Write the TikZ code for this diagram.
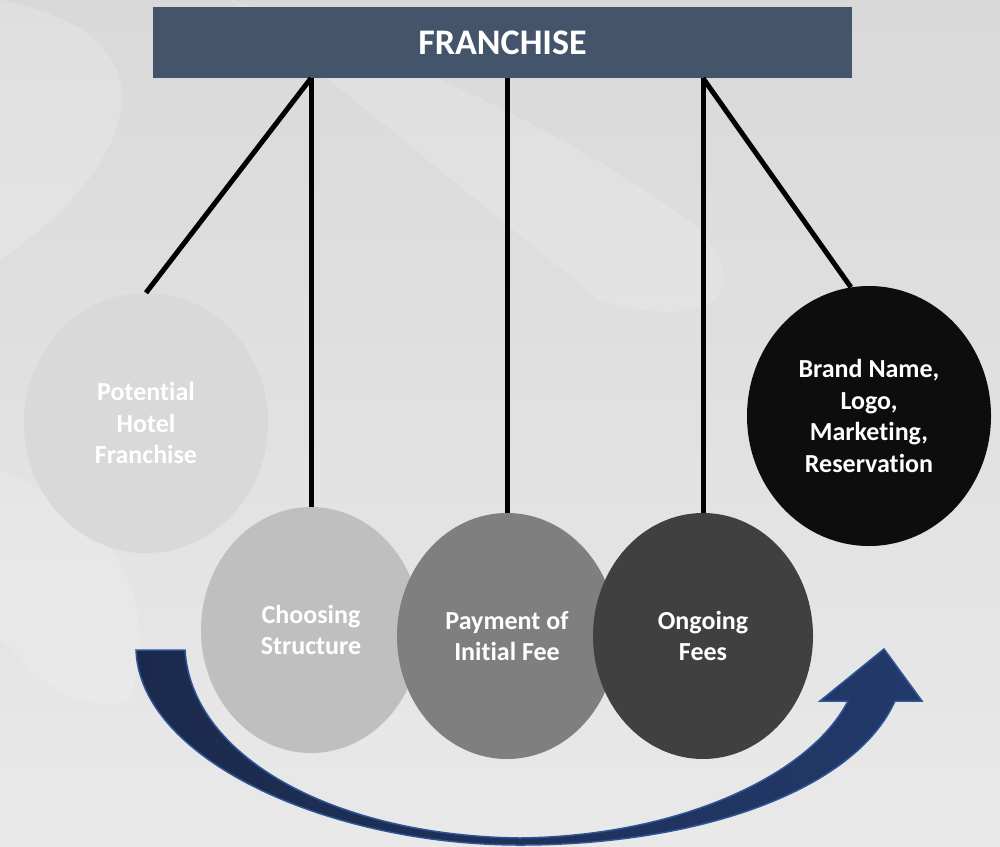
\documentclass[tikz,border=0pt]{standalone}
\usepackage{fontspec}
\setmainfont{Carlito}[Ligatures=NoCommon]
\usetikzlibrary{shapes.geometric}
\definecolor{boxblue}{HTML}{44546A}
\definecolor{arrowdark}{HTML}{1B2A4C}
\definecolor{arrowlight}{HTML}{22396A}
\definecolor{arrowedge}{HTML}{2F5597}
\definecolor{bgmid}{HTML}{D9D9D9}
\definecolor{bglight}{HTML}{E9E9E9}
\tikzset{
  bubble/.style={ellipse, inner sep=0pt, minimum width=220pt, minimum height=246pt,
    align=center, text=white, font=\fontsize{26}{31.7}\selectfont\bfseries},
  bigbubble/.style={bubble, minimum width=244pt, minimum height=260pt},
  hang/.style={line width=5pt, black},
  title/.style={fill=boxblue, minimum width=699pt, minimum height=71pt, inner sep=0pt,
    text=white, font=\fontsize{36}{43}\selectfont\bfseries}
}
\begin{document}
\begin{tikzpicture}[x=1pt, y=-1pt]
\useasboundingbox (0,0) rectangle (1000,846);
% background (photo approximation)
\shade[top color=bgmid, bottom color=bglight] (0,0) rectangle (1000,846);
\fill[white, opacity=0.18] (0,0) .. controls (200,40) and (120,180) .. (0,260) -- cycle;
\fill[white, opacity=0.15] (0,470) .. controls (120,520) and (160,600) .. (130,700) .. controls (60,720) and (20,650) .. (0,640) -- cycle;
\fill[white, opacity=0.15] (230,0) .. controls (420,60) and (600,150) .. (700,230) .. controls (760,300) and (700,330) .. (600,300) .. controls (500,220) and (380,120) .. (230,0) -- cycle;

% curved arrow
\path[draw=arrowedge, line width=1.5pt, left color=arrowdark, right color=arrowlight, line join=miter]
  (136,650) .. controls (140,760) and (330,845) .. (520,845)
  .. controls (700,845) and (855,790) .. (895,701)
  -- (922,701) -- (884,649) -- (820,701) -- (848,701)
  .. controls (810,775) and (680,836) .. (520,838)
  .. controls (340,836) and (192,760) .. (185,650) -- cycle;

% title
\node[title] (fr) at (502.5,42.5) {FRANCHISE};

% bubbles
\node[bigbubble, fill={rgb,255:red,217;green,217;blue,217}] (c1) at (146,423) {Potential\\Hotel\\Franchise};
\node[bubble, fill={rgb,255:red,191;green,191;blue,191}] (c2) at (311,630) {Choosing\\Structure};
\node[bubble, fill={rgb,255:red,127;green,127;blue,127}] (c3) at (507,636) {Payment of\\Initial Fee};
\node[bubble, fill={rgb,255:red,64;green,64;blue,64}] (c4) at (703,636) {Ongoing\\Fees};
\node[bigbubble, fill={rgb,255:red,13;green,13;blue,13}] (c5) at (869,416) {Brand Name,\\Logo,\\Marketing,\\Reservation};

% hanging lines
\draw[hang] (fr.south -| c2.center) -- (c1.north);
\draw[hang] (fr.south -| c2.center) -- (c2.north);
\draw[hang] (fr.south -| c3.center) -- (c3.north);
\draw[hang] (fr.south -| c4.center) -- (c4.north);
\draw[hang] (fr.south -| c4.center) -- (c5.98);
\end{tikzpicture}
\end{document}
